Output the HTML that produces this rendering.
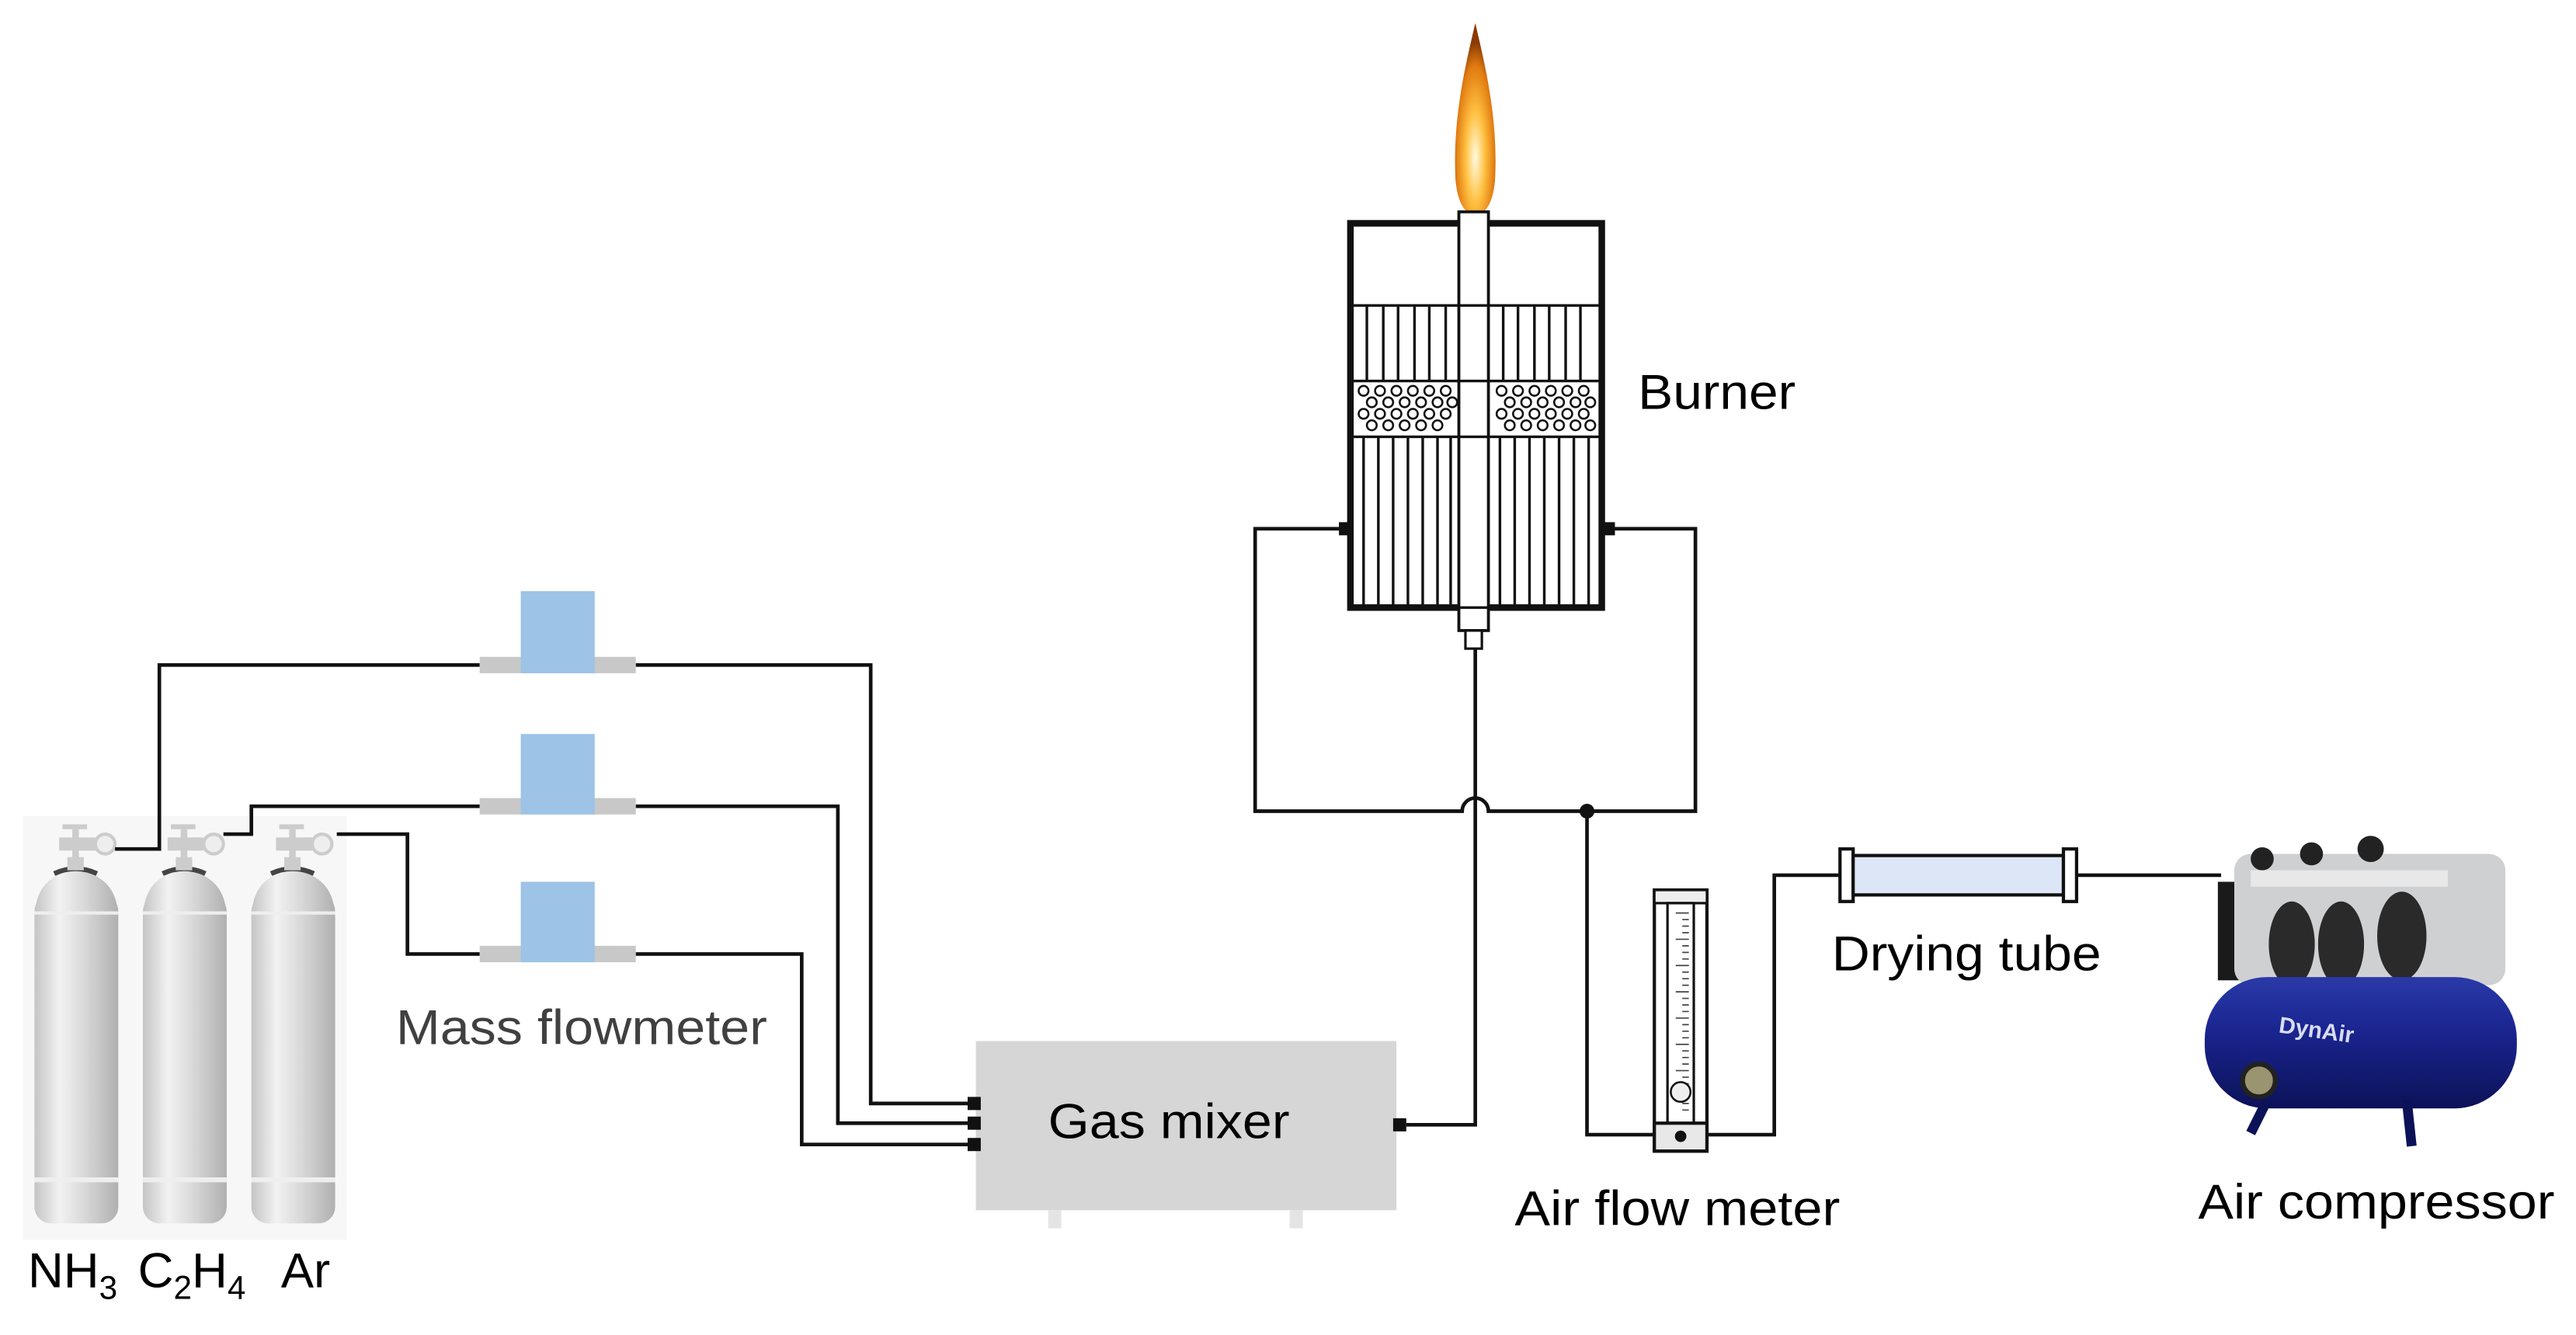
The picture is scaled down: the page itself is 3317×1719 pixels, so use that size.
<!DOCTYPE html>
<html><head><meta charset="utf-8"><style>
html,body{margin:0;padding:0;background:#fff;}
svg{display:block;}
text{font-family:"Liberation Sans",Arial,sans-serif;}
</style></head><body>
<svg width="3317" height="1719" viewBox="0 0 1568 813" preserveAspectRatio="none" xmlns="http://www.w3.org/2000/svg">
<defs>
<linearGradient id="cyl" x1="0" x2="1" y1="0" y2="0">
<stop offset="0" stop-color="#c4c4c4"/><stop offset="0.3" stop-color="#f2f2f2"/><stop offset="0.6" stop-color="#d8d8d8"/><stop offset="1" stop-color="#b0b0b0"/>
</linearGradient>
<radialGradient id="flame" cx="0.5" cy="0.7" r="0.6">
<stop offset="0" stop-color="#fffbe0"/><stop offset="0.4" stop-color="#ffc040"/><stop offset="0.8" stop-color="#e07a10"/><stop offset="1" stop-color="#8a3a05"/>
</radialGradient>
<linearGradient id="tank" x1="0" x2="0" y1="0" y2="1">
<stop offset="0" stop-color="#2a3aa8"/><stop offset="0.4" stop-color="#1a2590"/><stop offset="1" stop-color="#0c1258"/>
</linearGradient>
</defs>
<rect x="0" y="0" width="1568" height="813" fill="#fff"/>

<rect x="14" y="497" width="197" height="258" fill="#f7f7f7"/>
<g>
<g id="c1">
<rect x="21" y="545" width="51" height="200" rx="10" fill="url(#cyl)"/>
<path d="M21 560 Q21 533 46 530 Q72 533 72 560 Z" fill="url(#cyl)"/>
<path d="M33 532 Q46 526 59 532" stroke="#444" stroke-width="3" fill="none"/>
<rect x="41" y="522" width="10" height="8" fill="#ccc"/>
<rect x="21" y="555" width="51" height="2" fill="#eee"/>
<rect x="21" y="717" width="51" height="3" fill="#eee"/>
<rect x="44" y="505" width="4" height="18" fill="#ccc"/>
<rect x="38" y="502" width="15" height="3" fill="#ccc"/>
<rect x="36" y="510" width="22" height="8" fill="#ccc"/>
<circle cx="64" cy="514" r="6" fill="#eee" stroke="#ccc" stroke-width="2"/>
</g>
<use href="#c1" x="66"/>
<use href="#c1" x="132"/>
</g>
<text x="17" y="784" font-size="30">NH<tspan font-size="20" dy="7">3</tspan></text>
<text x="84" y="784" font-size="30">C<tspan font-size="20" dy="7">2</tspan><tspan dy="-7">H</tspan><tspan font-size="20" dy="7">4</tspan></text>
<text x="171" y="784" font-size="30">Ar</text>

<g stroke="#111" stroke-width="2.2" fill="none">
<path d="M70 517 H97 V405 H292"/>
<path d="M387 405 H530 V672 H592"/>
<path d="M136 508 H153 V491 H292"/>
<path d="M387 491 H510 V684 H592"/>
<path d="M205 508 H248 V581 H292"/>
<path d="M387 581 H488 V697 H592"/>
<path d="M856 685 H898 V395"/>
<path d="M815 322 H764 V494 H890 A8 8 0 0 1 906 494 H1032 V322 H982"/>
<path d="M966 494 V691 H1006"/>
<path d="M1040 691 H1080 V533 H1120"/>
<path d="M1265 533 H1352"/>
</g>
<circle cx="966" cy="494" r="4.5" fill="#111"/>

<g>
<rect x="292" y="400" width="95" height="10" fill="#c8c8c8"/>
<rect x="317" y="360" width="45" height="50" fill="#9dc3e6"/>
<rect x="292" y="486" width="95" height="10" fill="#c8c8c8"/>
<rect x="317" y="447" width="45" height="49" fill="#9dc3e6"/>
<rect x="292" y="576" width="95" height="10" fill="#c8c8c8"/>
<rect x="317" y="537" width="45" height="49" fill="#9dc3e6"/>
</g>
<text x="241" y="636" font-size="30" fill="#404040" textLength="226" lengthAdjust="spacingAndGlyphs">Mass flowmeter</text>

<rect x="594" y="634" width="256" height="103" fill="#d6d6d6"/>
<rect x="638" y="737" width="8" height="11" fill="#e4e4e4"/>
<rect x="785" y="737" width="8" height="11" fill="#e4e4e4"/>
<rect x="589" y="668" width="8" height="8" fill="#111"/>
<rect x="589" y="680" width="8" height="8" fill="#111"/>
<rect x="589" y="693" width="8" height="8" fill="#111"/>
<rect x="848" y="681" width="8" height="8" fill="#111"/>
<text x="638" y="693" font-size="30" textLength="147" lengthAdjust="spacingAndGlyphs">Gas mixer</text>

<path d="M898 14 C892 40 884 72 886 110 Q888 130 898 131 Q908 130 910 110 C912 72 904 40 898 14 Z" fill="url(#flame)"/>

<rect x="822" y="136" width="153" height="234" fill="#fff" stroke="#111" stroke-width="4"/>
<g stroke="#111" stroke-width="1.6">
<line x1="822" y1="186" x2="975" y2="186"/>
<line x1="822" y1="232" x2="975" y2="232"/>
<line x1="822" y1="266" x2="975" y2="266"/>
<line x1="832" y1="186" x2="832" y2="232"/><line x1="842" y1="186" x2="842" y2="232"/><line x1="851" y1="186" x2="851" y2="232"/><line x1="861" y1="186" x2="861" y2="232"/><line x1="870" y1="186" x2="870" y2="232"/><line x1="880" y1="186" x2="880" y2="232"/>
<line x1="915" y1="186" x2="915" y2="232"/><line x1="924" y1="186" x2="924" y2="232"/><line x1="934" y1="186" x2="934" y2="232"/><line x1="943" y1="186" x2="943" y2="232"/><line x1="953" y1="186" x2="953" y2="232"/><line x1="962" y1="186" x2="962" y2="232"/>
<line x1="830" y1="266" x2="830" y2="370"/><line x1="839" y1="266" x2="839" y2="370"/><line x1="848" y1="266" x2="848" y2="370"/><line x1="857" y1="266" x2="857" y2="370"/><line x1="866" y1="266" x2="866" y2="370"/><line x1="875" y1="266" x2="875" y2="370"/><line x1="883" y1="266" x2="883" y2="370"/>
<line x1="913" y1="266" x2="913" y2="370"/><line x1="922" y1="266" x2="922" y2="370"/><line x1="931" y1="266" x2="931" y2="370"/><line x1="940" y1="266" x2="940" y2="370"/><line x1="949" y1="266" x2="949" y2="370"/><line x1="958" y1="266" x2="958" y2="370"/><line x1="967" y1="266" x2="967" y2="370"/>
</g>
<g fill="none" stroke="#111" stroke-width="1.2">
<circle cx="830" cy="238" r="3"/><circle cx="840" cy="238" r="3"/><circle cx="850" cy="238" r="3"/><circle cx="860" cy="238" r="3"/><circle cx="870" cy="238" r="3"/><circle cx="880" cy="238" r="3"/>
<circle cx="835" cy="245" r="3"/><circle cx="845" cy="245" r="3"/><circle cx="855" cy="245" r="3"/><circle cx="865" cy="245" r="3"/><circle cx="875" cy="245" r="3"/><circle cx="884" cy="245" r="3"/>
<circle cx="830" cy="252" r="3"/><circle cx="840" cy="252" r="3"/><circle cx="850" cy="252" r="3"/><circle cx="860" cy="252" r="3"/><circle cx="870" cy="252" r="3"/><circle cx="880" cy="252" r="3"/>
<circle cx="835" cy="259" r="3"/><circle cx="845" cy="259" r="3"/><circle cx="855" cy="259" r="3"/><circle cx="865" cy="259" r="3"/><circle cx="875" cy="259" r="3"/>
<circle cx="914" cy="238" r="3"/><circle cx="924" cy="238" r="3"/><circle cx="934" cy="238" r="3"/><circle cx="944" cy="238" r="3"/><circle cx="954" cy="238" r="3"/><circle cx="964" cy="238" r="3"/>
<circle cx="919" cy="245" r="3"/><circle cx="929" cy="245" r="3"/><circle cx="939" cy="245" r="3"/><circle cx="949" cy="245" r="3"/><circle cx="959" cy="245" r="3"/><circle cx="968" cy="245" r="3"/>
<circle cx="914" cy="252" r="3"/><circle cx="924" cy="252" r="3"/><circle cx="934" cy="252" r="3"/><circle cx="944" cy="252" r="3"/><circle cx="954" cy="252" r="3"/><circle cx="964" cy="252" r="3"/>
<circle cx="919" cy="259" r="3"/><circle cx="929" cy="259" r="3"/><circle cx="939" cy="259" r="3"/><circle cx="949" cy="259" r="3"/><circle cx="959" cy="259" r="3"/><circle cx="968" cy="259" r="3"/>
</g>
<rect x="888" y="129" width="18" height="255" fill="#fff" stroke="#111" stroke-width="1.8"/>
<g stroke="#111" stroke-width="1.6"><line x1="888" y1="186" x2="906" y2="186"/><line x1="888" y1="232" x2="906" y2="232"/><line x1="888" y1="266" x2="906" y2="266"/><line x1="888" y1="370" x2="906" y2="370"/></g>
<rect x="892" y="384" width="10" height="11" fill="#fff" stroke="#111" stroke-width="1.5"/>
<rect x="815" y="318" width="8" height="8" fill="#111"/>
<rect x="975" y="318" width="8" height="8" fill="#111"/>
<text x="997" y="249" font-size="30" textLength="96" lengthAdjust="spacingAndGlyphs">Burner</text>

<rect x="1007" y="542" width="32" height="159" fill="#fff" stroke="#111" stroke-width="2"/>
<rect x="1007" y="542" width="32" height="8" fill="#eee" stroke="#111" stroke-width="1.5"/>
<rect x="1015" y="550" width="16" height="134" fill="#fff" stroke="#111" stroke-width="1.5"/>
<g stroke="#444" stroke-width="0.8">
<path d="M1020 556 H1028 M1024 560 H1028 M1024 564 H1028 M1024 568 H1028 M1020 572 H1028 M1024 576 H1028 M1024 580 H1028 M1024 584 H1028 M1020 588 H1028 M1024 592 H1028 M1024 596 H1028 M1024 600 H1028 M1020 604 H1028 M1024 608 H1028 M1024 612 H1028 M1024 616 H1028 M1020 620 H1028 M1024 624 H1028 M1024 628 H1028 M1024 632 H1028 M1020 636 H1028 M1024 640 H1028 M1024 644 H1028 M1024 648 H1028 M1020 652 H1028 M1024 656 H1028 M1024 660 H1028 M1024 664 H1028 M1020 668 H1028 M1024 672 H1028 M1024 676 H1028"/>
</g>
<circle cx="1023" cy="665" r="6" fill="#eee" stroke="#111" stroke-width="1.2"/>
<rect x="1007" y="684" width="32" height="17" fill="#e8e8e8" stroke="#111" stroke-width="2"/>
<circle cx="1023" cy="692" r="3.5" fill="#111"/>
<text x="922" y="746" font-size="30" textLength="198" lengthAdjust="spacingAndGlyphs">Air flow meter</text>

<rect x="1120" y="517" width="8" height="32" fill="#fff" stroke="#111" stroke-width="2"/>
<rect x="1128" y="521" width="128" height="24" fill="#dce6f6" stroke="#111" stroke-width="2"/>
<rect x="1256" y="517" width="8" height="32" fill="#fff" stroke="#111" stroke-width="2"/>
<text x="1115" y="591" font-size="30" textLength="164" lengthAdjust="spacingAndGlyphs">Drying tube</text>

<g>
<rect x="1350" y="537" width="20" height="60" fill="#1a1a1a"/>
<rect x="1360" y="520" width="165" height="80" rx="10" fill="#cfd0d2"/>
<circle cx="1377" cy="523" r="7" fill="#222"/><circle cx="1407" cy="520" r="7" fill="#222"/><circle cx="1443" cy="517" r="8" fill="#222"/>
<ellipse cx="1395" cy="575" rx="14" ry="26" fill="#2a2a2a"/>
<ellipse cx="1425" cy="575" rx="14" ry="26" fill="#2a2a2a"/>
<ellipse cx="1462" cy="570" rx="15" ry="27" fill="#2a2a2a"/>
<rect x="1370" y="530" width="120" height="10" fill="#e8e8e8"/>
<path d="M1372 600 L1470 595 L1470 625 L1375 640 Z" fill="#1c2a96"/>
<rect x="1342" y="595" width="190" height="80" rx="38" fill="url(#tank)"/>
<path d="M1380 670 L1370 690 M1465 670 L1468 698" stroke="#0c1258" stroke-width="6"/>
<circle cx="1375" cy="658" r="10" fill="#9a9470" stroke="#222" stroke-width="3"/>
<text x="1387" y="632" font-size="14" font-family="Liberation Serif,serif" font-weight="bold" fill="#d8dcf0" transform="rotate(8 1410 628)">DynAir</text>
</g>
<text x="1338" y="742" font-size="30" textLength="217" lengthAdjust="spacingAndGlyphs">Air compressor</text>
</svg>
</body></html>
